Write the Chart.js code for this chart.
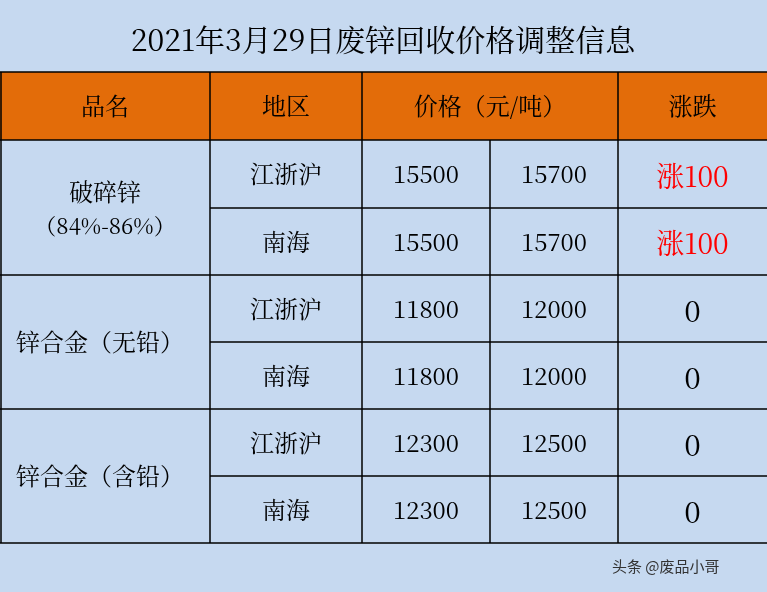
<!DOCTYPE html>
<html><head><meta charset="utf-8">
<script src="https://cdn.jsdelivr.net/npm/chart.js@4"></script>
<style>html,body{margin:0;padding:0;background:#C6D9F0}#w{width:767px;height:592px}</style>
</head><body><div id="w"><canvas id="c"></canvas></div>
<script>
const title = "2021年3月29日废锌回收价格调整信息";
const headers = ["品名", "地区", "价格（元/吨）", "涨跌"];
const products = ["破碎锌\n（84%-86%）", "锌合金（无铅）", "锌合金（含铅）"];
const regions = ["江浙沪", "南海", "江浙沪", "南海", "江浙沪", "南海"];
const lowPrices = [15500, 15500, 11800, 11800, 12300, 12300];
const highPrices = [15700, 15700, 12000, 12000, 12500, 12500];
const changes = ["涨100", "涨100", "0", "0", "0", "0"];
const watermark = "头条 @废品小哥";

const colX = [0, 210, 362, 490, 618, 767];
const rowY = [0, 72, 140, 208, 275, 342, 409, 476, 543, 592];

const tablePlugin = {
  id: 'table',
  afterDraw(chart) {
    const ctx = chart.ctx, xs = chart.scales.x, ys = chart.scales.y;
    const X = v => xs.getPixelForValue(v), Y = v => ys.getPixelForValue(v);
    ctx.save();
    ctx.fillStyle = '#C6D9F0';
    ctx.fillRect(X(0), Y(0), X(767) - X(0), Y(592) - Y(0));
    ctx.fillStyle = '#E36C09';
    ctx.fillRect(X(0), Y(rowY[1]), X(767) - X(0), Y(rowY[2]) - Y(rowY[1]));
    ctx.strokeStyle = '#000'; ctx.lineWidth = 1.5;
    const line = (x1, y1, x2, y2) => { ctx.beginPath(); ctx.moveTo(X(x1), Y(y1)); ctx.lineTo(X(x2), Y(y2)); ctx.stroke(); };
    [1, 2, 4, 6, 8].forEach(i => line(0, rowY[i], 767, rowY[i]));
    [3, 5, 7].forEach(i => line(colX[1], rowY[i], 767, rowY[i]));
    line(1, rowY[1], 1, rowY[8]);
    [1, 2, 4].forEach(i => line(colX[i], rowY[1], colX[i], rowY[8]));
    line(colX[3], rowY[2], colX[3], rowY[8]);
    ctx.textAlign = 'center'; ctx.textBaseline = 'middle';
    const F = s => s + 'px "Noto Serif CJK SC","Noto Sans CJK SC",serif';
    const txt = (t, x, y, size, color) => { ctx.font = F(size); ctx.fillStyle = color || '#000'; ctx.fillText(t, X(x), Y(y)); };
    txt(title, 383, 40, 30);
    const hc = [(colX[0] + colX[1]) / 2, (colX[1] + colX[2]) / 2, (colX[2] + colX[4]) / 2, (colX[4] + colX[5]) / 2];
    headers.forEach((h, i) => txt(h, hc[i], 106, 24));
    products.forEach((p, i) => {
      const cy = (rowY[2 + 2 * i] + rowY[4 + 2 * i]) / 2;
      const parts = p.split('\n');
      if (parts.length > 1) { txt(parts[0], 105, cy - 16, 24); txt(parts[1], 105, cy + 18, 22); }
      else txt(p, 100, cy, 24);
    });
    regions.forEach((r, i) => {
      const cy = (rowY[2 + i] + rowY[3 + i]) / 2;
      txt(r, (colX[1] + colX[2]) / 2, cy, 24);
      txt(String(lowPrices[i]), (colX[2] + colX[3]) / 2, cy, 24);
      txt(String(highPrices[i]), (colX[3] + colX[4]) / 2, cy, 24);
      const red = changes[i] !== '0';
      txt(changes[i], (colX[4] + colX[5]) / 2, cy + 2, red ? 28 : 30, red ? '#FF0000' : '#000');
    });
    ctx.font = '15px "Noto Sans CJK SC",sans-serif'; ctx.fillStyle = '#333'; ctx.textAlign = 'left';
    ctx.fillText(watermark, X(612), Y(566));
    ctx.restore();
  }
};

new Chart(document.getElementById('c'), {
  type: 'scatter',
  data: { datasets: [{ data: [] }] },
  options: {
    responsive: true, maintainAspectRatio: false, animation: false,
    layout: { padding: 0 },
    plugins: { legend: { display: false }, tooltip: { enabled: false } },
    scales: {
      x: { type: 'linear', min: 0, max: 767, display: false },
      y: { type: 'linear', min: 0, max: 592, reverse: true, display: false }
    }
  },
  plugins: [tablePlugin]
});
</script></body></html>
